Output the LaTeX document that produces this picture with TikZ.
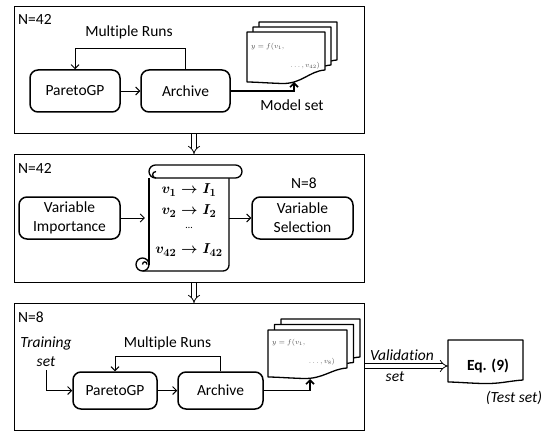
\documentclass[tikz,border=0pt]{standalone}
\usepackage{fontspec}
\setmainfont{Carlito}[Ligatures=NoCommon]
\usetikzlibrary{arrows.meta}

% A page with a wavy lower edge: #1,#2 top-left corner, #3 width,
% #4 height at the left edge, #5 height at the right edge, #6 node name
\newcommand\pagedoc[6]{%
  \begin{scope}[shift={(#1,#2)}]
    \draw[docpage] (0,0) -- (#3,0) -- (#3,#5)
      .. controls ({0.8*#3},{#5+1}) and ({0.7*#3},{#4+2}) .. ({0.45*#3},{#4+1.5})
      .. controls ({0.25*#3},{#4+1}) and ({0.1*#3},{#4}) .. (0,#4) -- cycle;
    \node[inner sep=0, minimum width=#3, minimum height=#5, anchor=north west] (#6) at (0,0) {};
  \end{scope}}

\begin{document}
\begin{tikzpicture}[x=1pt, y=-1pt,
  every node/.style={font=\fontsize{15.5}{19}\selectfont},
  panelbox/.style={draw, line width=1.3pt, anchor=north west, inner sep=0, minimum width=350},
  procbox/.style={draw, line width=1.5pt, rounded corners=8pt, align=center, inner sep=0, minimum height=42},
  arr/.style={-{Straight Barb[length=4pt,width=8pt]}, line width=0.9pt},
  thickarr/.style={-{Straight Barb[length=4pt,width=8pt]}, line width=1.6pt},
  dbl/.style={double, double distance=3.5pt, line width=0.8pt, -{Implies}},
  docpage/.style={draw, line width=1.3pt, fill=white, line join=round},
  doctext/.style={font=\fontsize{7}{8}\selectfont, text=black!70, inner sep=0},
  scrollline/.style={line width=1.3pt},
  scrolltext/.style={font=\fontsize{15}{18}\selectfont\boldmath, inner sep=0},
  itlab/.style={font=\fontsize{15.5}{19}\selectfont\itshape, align=center}]

\useasboundingbox (0,0) rectangle (559,433);

% ---------- three stages ----------
\node[panelbox, minimum height=127] (p1) at (14,6) {};
\node[panelbox, minimum height=128] (p2) at (14,154) {};
\node[panelbox, minimum height=127] (p3) at (14,303) {};

\coordinate (dx) at (194,0);
\draw[dbl] (p1.south -| dx) -- (p2.north -| dx);
\draw[dbl] (p2.south -| dx) -- (p3.north -| dx);

% ---------- stage 1: modelling with all variables ----------
\node[anchor=west, inner sep=0] (n1) at (18,19) {N=42};
\node[procbox, minimum width=90] (gp1) at (75,91) {ParetoGP};
\node[procbox, minimum width=89] (ar1) at (185.5,91) {Archive};
\draw[arr] (gp1) -- (ar1);
\coordinate (r1) at (0,48);
\draw[arr] (ar1.north) -- (ar1.north |- r1) -| (gp1.north);
\node (mr1) at (129,32) {Multiple Runs};

\pagedoc{259}{22}{78}{50}{38}{docA3}
\pagedoc{253}{27}{78}{50}{38}{docA2}
\pagedoc{247}{32}{78}{50}{38}{docA}
\node[doctext, anchor=west] (da1) at (251,47) {$y = f(v_1,$};
\node[doctext, anchor=east] (da2) at (320,66) {$\ldots, v_{42})$};
\coordinate (tipA) at (294,82);
\draw[thickarr] (ar1.east) -| (tipA);
\node (ms1) at (292,105) {Model set};

% ---------- stage 2: variable selection ----------
\node[anchor=west, inner sep=0] (n2) at (18,168) {N=42};
\node[procbox, minimum width=101] (vi) at (69.5,218) {Variable\\Importance};
\node[procbox, minimum width=101] (vs) at (302.5,218) {Variable\\Selection};
\node (n8a) at (304,183) {N=8};

% scroll holding the importance list
\node[inner sep=0, minimum width=80, minimum height=93] (scroll) at (189,224.5) {};
\draw[scrollline, fill=white] (142.5,264.5) circle[radius=6.5];
\draw[scrollline] (142.5,264.5) .. controls (142.5,261) and (147,261) .. (147,264.5);
\draw[scrollline] (149,178) -- (149,264.5);
\draw[scrollline, rounded corners=6pt] (142.5,271) -- (229,271) -- (229,178);
\draw[scrollline, fill=white, rounded corners=6.5pt] (149,165) rectangle (242,178);
\draw[scrollline] (156,178) .. controls (151.5,178) and (151.5,171.5) .. (156,171.5);

\node[scrolltext] (t1) at (189,190) {$v_1 \rightarrow I_1$};
\node[scrolltext] (t2) at (189,211) {$v_2 \rightarrow I_2$};
\node[font=\fontsize{10}{12}\selectfont, inner sep=0] (t3) at (189,228) {\ldots};
\node[scrolltext] (t4) at (189,250) {$v_{42} \rightarrow I_{42}$};

\draw[arr, shorten >=4pt] (vi.east) -- (vi.east -| scroll.west);
\draw[arr] (scroll.east |- vs.west) -- (vs.west);

% ---------- stage 3: modelling with selected variables ----------
\node[anchor=west, inner sep=0] (n3) at (18,317) {N=8};
\node[itlab] (ts) at (46,352) {Training\\set};
\node[procbox, minimum width=84, minimum height=37] (gp3) at (115,390.5) {ParetoGP};
\node[procbox, minimum width=85, minimum height=37] (ar3) at (220.5,390.5) {Archive};
\draw[arr] (ts.south) |- (gp3.west);
\draw[arr] (gp3) -- (ar3);
\coordinate (r3) at (0,356);
\draw[arr] (ar3.north) -- (ar3.north |- r3) -| (gp3.north);
\node (mr3) at (167.5,343) {Multiple Runs};

\pagedoc{281}{319}{79}{47}{38}{docC3}
\pagedoc{274.5}{324.5}{79}{47}{38}{docC2}
\pagedoc{268}{330}{79}{47}{38}{docC}
\node[doctext, anchor=west] (dc1) at (272,343) {$y = f(v_1,$};
\node[doctext, anchor=east] (dc2) at (335,362) {$\ldots, v_{8})$};
\coordinate (tipC) at (310,379);
\draw[thickarr] (ar3.east) -| (tipC);

% ---------- selected equation ----------
\pagedoc{448}{340}{75}{42}{40}{eq}
\node[font=\fontsize{15.5}{19}\selectfont\bfseries] (eqt) at (488,366) {Eq. (9)};
\coordinate (vy) at (0,366);
\draw[dbl] (p3.east |- vy) -- (eq.west |- vy);
\node[itlab] (val) at (402,355) {Validation};
\node[itlab] (vset) at (395,377) {set};
\node[itlab] (tst) at (514,398) {(Test set)};

\end{tikzpicture}
\end{document}
